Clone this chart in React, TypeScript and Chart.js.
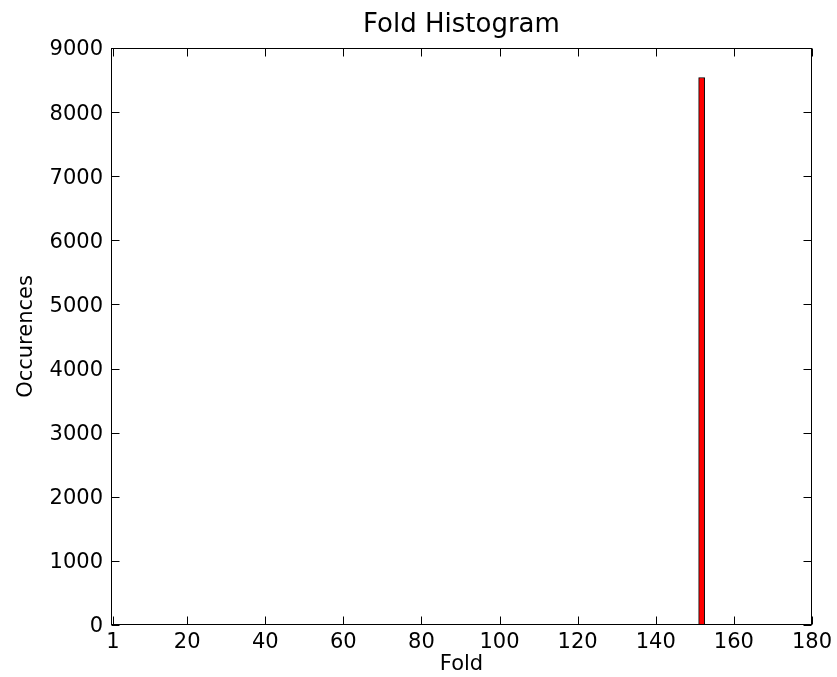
import React, { useEffect, useRef } from "react";
import { Chart, registerables } from "chart.js";

Chart.register(...registerables);

const titleText = "Fold Histogram";
const xLabel = "Fold";
const yLabel = "Occurences";
const binCenters = [151.75];
const binCounts = [8540];
const xTickValues = [1, 20, 40, 60, 80, 100, 120, 140, 160, 180];
const yTickValues = [0, 1000, 2000, 3000, 4000, 5000, 6000, 7000, 8000, 9000];
const xMin = 0.5;
const xMax = 180;
const yMin = 0;
const yMax = 9000;

const FONT = "'DejaVu Sans', sans-serif";

const framePlugin = {
  id: "frame",
  afterDraw(chart: any) {
    const { ctx, chartArea } = chart;
    const { left, right, top, bottom } = chartArea;
    const xs = chart.scales.x;
    const ys = chart.scales.y;
    const L = Math.round(left) + 0.5;
    const R = Math.round(right) - 0.5;
    const T = Math.round(top) + 0.5;
    const B = Math.round(bottom) - 0.5;
    ctx.save();
    ctx.strokeStyle = "#000";
    ctx.lineWidth = 1;
    ctx.strokeRect(L, T, R - L, B - T);
    const tl = 8;
    ctx.beginPath();
    for (const v of xTickValues) {
      const px = Math.round(xs.getPixelForValue(v)) + 0.5;
      ctx.moveTo(px, B);
      ctx.lineTo(px, B - tl);
      ctx.moveTo(px, T);
      ctx.lineTo(px, T + tl);
    }
    for (const v of yTickValues) {
      const py = Math.round(ys.getPixelForValue(v)) + 0.5;
      ctx.moveTo(L, py);
      ctx.lineTo(L + tl, py);
      ctx.moveTo(R, py);
      ctx.lineTo(R - tl, py);
    }
    ctx.stroke();
    ctx.fillStyle = "#000";
    ctx.font = `26px ${FONT}`;
    ctx.textAlign = "center";
    ctx.textBaseline = "alphabetic";
    ctx.fillText(titleText, (left + right) / 2, 32);
    ctx.restore();
  },
};

export default function App() {
  const ref = useRef<HTMLCanvasElement>(null);
  useEffect(() => {
    document.body.style.margin = "0";
    const canvas = ref.current!;
    const chart = new Chart(canvas, {
      type: "bar",
      data: {
        datasets: [
          {
            label: "Occurences",
            data: binCenters.map((x, i) => ({ x, y: binCounts[i] })),
            backgroundColor: "#ff0000",
            borderColor: "#000000",
            borderWidth: 1,
            borderSkipped: false,
            barThickness: 6,
          },
        ],
      },
      options: {
        animation: false,
        responsive: false,
        maintainAspectRatio: false,
        layout: { padding: { left: 0, right: 25, top: 48, bottom: 0 } },
        plugins: {
          legend: { display: false },
          tooltip: { enabled: false },
          title: { display: false },
        },
        scales: {
          x: {
            type: "linear",
            offset: false,
            min: xMin,
            max: xMax,
            grid: { display: false, drawTicks: false, offset: false },
            border: { display: false },
            afterBuildTicks: (s: any) => {
              s.ticks = xTickValues.map((v) => ({ value: v }));
            },
            afterFit: (s: any) => {
              s.height = 52;
            },
            ticks: {
              color: "#000",
              font: { family: FONT, size: 21 },
              padding: 5,
              maxRotation: 0,
              autoSkip: false,
              callback: (v: any) => String(v),
            },
            title: {
              display: true,
              text: xLabel,
              color: "#000",
              font: { family: FONT, size: 21 },
              padding: { top: -2, bottom: 0 },
            },
          },
          y: {
            type: "linear",
            min: yMin,
            max: yMax,
            grid: { display: false, drawTicks: false },
            border: { display: false },
            afterBuildTicks: (s: any) => {
              s.ticks = yTickValues.map((v) => ({ value: v }));
            },
            afterFit: (s: any) => {
              s.width = 111;
            },
            ticks: {
              color: "#000",
              font: { family: FONT, size: 21 },
              padding: 8,
              labelOffset: 2,
              autoSkip: false,
              callback: (v: any) => String(v),
            },
            title: {
              display: true,
              text: yLabel,
              color: "#000",
              font: { family: FONT, size: 21 },
              padding: { top: 14, bottom: 0 },
            },
          },
        },
      },
      plugins: [framePlugin],
    } as any);
    return () => chart.destroy();
  }, []);
  return <canvas ref={ref} width={837} height={677} style={{ display: "block" }} />;
}
